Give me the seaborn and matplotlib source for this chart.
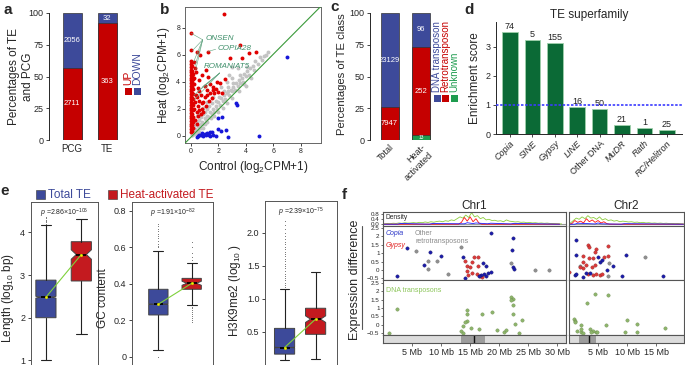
import numpy as np
import pandas as pd
import matplotlib
matplotlib.use("Agg")
import matplotlib.pyplot as plt
import seaborn as sns
from matplotlib.patches import Rectangle
from matplotlib.lines import Line2D

# ---------------- DATA ----------------
# a
a_groups = ["PCG", "TE"]
a_up = [2711, 363]
a_down = [2056, 32]

# b  (control, heat) log2CPM+1
b_gray_x = [0.1,0.2,0.3,0.4,0.5,0.6,0.7,0.8,0.9,1.0,1.1,1.2,1.3,1.4,1.5,1.6,1.7,1.8,1.9,2.0,2.1,2.2,2.3,2.4,2.5,2.6,2.7,2.8,2.9,3.0,3.1,3.2,3.3,3.4,3.5,3.6,3.7,3.8,3.9,4.0,4.1,4.3,4.5,4.6,4.7,4.9,5.0,5.2,5.3,5.5,5.6,4.2,3.0,2.6,2.8,3.4,3.0,
            0.05,0.1,0.15,0.25,0.3,0.35,0.45,0.5,0.55,0.6,0.7,0.75,0.85,0.9,1.0,1.05,1.15,1.2,1.3,1.45,1.55,1.7,1.8,2.0,2.05,2.3,2.4,2.6,2.7,3.0,3.1,3.5,3.6,3.9,4.1,4.4,4.0,2.2,1.6,1.2,0.9,0.6,0.4]
b_gray_y = [0.2,0.3,0.5,0.4,0.7,0.6,0.9,1.0,0.9,1.3,1.2,1.5,1.4,1.8,1.6,2.0,1.8,2.2,2.0,2.5,2.3,2.8,2.6,3.0,2.7,3.2,3.3,3.0,3.4,3.3,3.6,3.4,3.9,3.7,4.1,3.9,4.3,4.0,4.6,4.4,4.8,5.0,5.2,4.9,5.5,5.3,5.8,5.6,5.9,6.0,6.2,4.5,4.3,4.0,4.5,5.0,5.1,
            0.1,0.05,0.35,0.15,0.8,0.25,1.0,0.4,1.2,0.3,1.4,0.6,1.6,0.6,1.8,0.9,2.0,1.0,2.2,1.3,2.4,1.5,2.6,1.8,2.9,2.1,3.3,2.4,3.6,2.8,3.9,3.3,4.5,3.8,5.1,4.3,3.7,3.6,2.9,2.5,2.1,1.7,1.5]
b_red_x = [0,0,0,0,0,0,0,0,0,0,0,0,0,0,0,0,0,0,0,0,0,0,0,0,0,0,0,0,0,
           0.05,0.05,0.05,0.05,0.05,0.05,0.05,0.05,0.05,0.05,0.05,0.05,0.05,
           0.15,0.15,0.15,0.15,0.15,0.15,0.15,0.15,0.15,0.15,
           0.41,0.66,0.24,0.3,0.35,1.22,2.43,3.58,4.23,4.77,2.85,3.7,1.26,2.48,2.12,1.63,1.02,0.54,2.0,2.24,
           0.3,0.4,0.5,0.6,0.7,0.8,0.9,1.0,1.1,1.2,1.3,1.4,1.5,1.6,1.7,1.8,0.4,0.5,0.6,0.7,0.8,0.25,0.3,0.35,0.2,0.45,0.55,0.9,1.15,1.35,1.9,1.1,0.8,0.6,0.2]
b_red_y = [0.3,0.5,0.7,0.9,1.1,1.3,1.5,1.7,1.9,2.1,2.3,2.5,2.7,2.9,3.1,3.3,3.5,3.7,3.9,4.1,4.3,4.5,4.7,4.9,5.1,5.3,5.5,6.36,7.59,
           0.4,0.8,1.2,1.6,2.0,2.4,2.8,3.2,3.6,4.0,4.4,4.8,5.2,
           0.6,1.0,1.4,1.9,2.3,2.7,3.1,3.5,4.2,4.6,
           6.23,5.99,5.49,5.0,4.7,6.23,8.99,6.72,6.16,6.21,5.74,5.79,4.38,4.21,3.89,3.4,3.72,3.57,3.28,3.15,
           1.2,1.8,2.2,2.6,3.0,2.0,2.5,2.9,2.2,3.0,2.6,3.2,2.8,3.6,3.2,3.5,0.9,1.5,1.9,1.6,2.4,2.0,2.5,3.0,3.8,2.9,3.3,1.8,3.4,3.8,4.0,4.9,4.5,4.1,4.3]
b_blue_x = [7.0,4.99,3.28,3.33,2.72,2.53,2.0,2.24,1.39,0.5,0.6,0.7,0.8,0.9,1.0,1.1,1.2,1.3,1.5,1.6,1.8,2.0,2.2,0.4,1.4]
b_blue_y = [5.86,0.0,2.41,2.29,-0.05,0.44,1.3,1.43,0.32,0.0,0.1,0.05,0.2,0.0,0.15,0.05,0.25,0.1,0.3,0.1,-0.02,0.5,0.35,-0.05,0.0]
b_labels = ["ONSEN", "COPIA28", "ROMANIAT5"]
b_label_xy = [(1.05, 7.2), (1.95, 6.45), (0.95, 5.1)]
b_label_anchor = [(0.85, 7.1), (1.8, 6.4), (2.1, 4.65)]
b_label_targets = [[(0.0, 7.59), (0.1, 6.3), (0.2, 5.5), (0.3, 5.2), (0.35, 4.9)],
                   [(1.22, 6.23)],
                   [(0.2, 3.0), (0.25, 2.7), (0.5, 3.3), (0.8, 3.6)]]

# c
c_groups = ["Total", "Heat-\nactivated"]
c_dna = [23129, 96]
c_retro = [7947, 252]
c_unknown = [120, 13]

# d
d_families = ["Copia", "SINE", "Gypsy", "LINE", "Other DNA", "MuDR", "Rath", "RC/Helitron"]
d_scores = [3.52, 3.25, 3.15, 0.93, 0.87, 0.31, 0.21, 0.15]
d_counts = [74, 5, 155, 16, 50, 21, 1, 25]

# e  box statistics: [whislo, q1, med, q3, whishi], notch ci, fliers
e_titles = ["Length (log$_{10}$ bp)", "GC content", "H3K9me2 (log$_{10}$ )"]
e_pvals = ["2.86×10$^{-106}$", "1.91×10$^{-82}$", "2.39×10$^{-75}$"]
e_total_stats = [[1.0, 2.0, 2.48, 2.88, 4.17], [0.037, 0.229, 0.288, 0.37, 0.58], [0.07, 0.16, 0.26, 0.55, 1.14]]
e_heat_stats = [[1.62, 2.86, 3.48, 3.78, 4.31], [0.284, 0.37, 0.403, 0.43, 0.513], [0.09, 0.46, 0.69, 0.855, 1.40]]
e_total_ci = [[2.46, 2.50], [0.286, 0.290], [0.255, 0.265]]
e_heat_ci = [[3.37, 3.59], [0.392, 0.414], [0.64, 0.74]]
e_total_fliers = [[4.2, 4.23, 4.26, 4.3, 4.33, 4.36],
                  [0.0, 0.6, 0.61, 0.62, 0.635, 0.65, 0.66, 0.675, 0.69, 0.7, 0.715, 0.73],
                  [1.17, 1.21, 1.24, 1.28, 1.31, 1.35, 1.38, 1.42, 1.46, 1.49, 1.53, 1.57, 1.6, 1.64, 1.68, 1.71, 1.75, 1.79, 1.83, 1.86, 1.9, 1.95, 2.0, 2.06, 2.12, 2.18]]
e_heat_fliers = [[],
                 [0.19, 0.2, 0.215, 0.225, 0.235, 0.245, 0.255, 0.265, 0.275, 0.53, 0.55, 0.57, 0.6, 0.63],
                 []]

# f
chr_names = ["Chr1", "Chr2"]
chr_xmax = [31.5, 19.8]
chr_ticks = [[5, 10, 15, 20, 25, 30], [5, 10, 15]]
cen_regions = [(13.5, 17.5, 15.6), (1.8, 4.7, 3.4)]
f1_copia_x = [2.46, 4.07, 8.09, 9.93, 7.0, 18.6, 22.4, 22.2, 22.4, 22.5, 13.8, 14.1, 17.2, 17.8, 18.1, 18.6, 17.7, 17.4, 16.8, 16.5]
f1_copia_y = [-0.37, 1.32, 1.05, 0.84, 0.31, 2.2, 1.91, 1.19, 0.15, 0.05, 0.76, -0.51, 0.39, 0.21, -0.18, -0.14, -0.37, -0.27, -0.3, -0.35]
f1_gypsy_x = [14.1, 15.7, 16.3, 14.5, 16.4, 15.0, 14.4, 15.4, 16.1, 16.7, 14.7, 17.0, 15.4]
f1_gypsy_y = [0.54, 0.76, 0.78, 0.26, 0.22, 0.2, -0.07, -0.17, -0.27, -0.37, -0.33, -0.43, 0.5]
f1_other_x = [5.63, 7.8, 7.8, 9.36, 11.25, 13.4, 22.1, 26.2, 28.5]
f1_other_y = [1.13, 0.54, 0.06, 0.54, -0.24, 1.38, 0.41, 0.02, 0.0]
f1_dna_x = [1.03, 2.36, 14.4, 14.4, 17.0, 18.8, 14.4, 14.1, 13.7, 13.4, 13.7, 15.2, 16.6, 19.6, 20.9, 21.1, 22.1, 22.4, 22.1, 22.4, 22.3, 22.7, 23.9, 23.4]
f1_dna_y = [-0.5, 0.94, 0.9, 0.64, 0.64, 0.76, 0.24, 0.18, -0.1, -0.36, -0.5, -0.18, -0.24, -0.3, -0.46, -0.3, 1.66, 1.54, 1.5, 1.2, 0.66, 0.06, 0.26, -0.5]
f2_copia_x = [1.15, 1.15, 5.34, 5.74, 5.0, 7.5, 9.8, 9.07, 16.2, 1.0, 1.2, 2.35, 2.9, 3.6, 6.5]
f2_copia_y = [1.79, 0.88, 0.5, 0.6, 0.8, 0.23, 0.91, -0.37, -0.35, -0.29, -0.25, -0.43, -0.2, -0.2, -0.02]
f2_gypsy_x = [0.0, 3.3, 3.4, 4.6, 4.55, 6.77, 2.35, 3.5, 4.1, 6.77, 6.0, 2.45, 3.0, 3.9, 4.5, 2.45, 1.9, 3.3, 4.1, 4.6, 5.3, 5.6]
f2_gypsy_y = [-0.12, 1.48, 1.34, 1.23, 1.09, 1.42, 0.85, 0.7, 0.7, 0.85, 0.8, 0.46, 0.3, 0.2, 0.3, 0.1, 0.2, -0.22, -0.33, -0.27, -0.33, -0.22]
f2_other_x = [1.9, 6.9, 6.7, 13.1]
f2_other_y = [0.24, 0.4, -0.37, 0.76]
f2_dna_x = [4.47, 6.77, 3.1, 0.86, 1.0, 1.1, 2.1, 1.4, 2.0, 2.1, 2.4, 3.7, 4.1, 4.6, 4.9, 3.8, 6.3, 9.9, 9.6, 11.65, 11.65, 16.5]
f2_dna_y = [1.84, 1.8, 1.3, 0.36, 0.24, 0.18, 0.0, -0.36, -0.46, -0.26, -0.5, -0.24, -0.38, -0.46, -0.42, -0.42, 0.0, 0.28, -0.42, 0.06, -0.44, -0.2]
# density (0.5 Mb bins)
f1_dens_green = [0.03,0.05,0.04,0.08,0.06,0.1,0.07,0.12,0.09,0.1,
                 0.13,0.1,0.15,0.12,0.18,0.14,0.2,0.16,0.22,0.25,
                 0.2,0.28,0.24,0.35,0.3,0.45,0.6,0.5,0.75,0.55,
                 0.95,0.6,0.7,0.45,0.55,0.35,0.4,0.3,0.32,0.25,
                 0.28,0.2,0.35,0.25,0.22,0.18,0.2,0.15,0.17,0.12,
                 0.14,0.1,0.12,0.08,0.1,0.07,0.09,0.06,0.05,0.04,0.03,0.02]
f1_dens_red_pos = [0, 13.0, 13.5, 14.0, 14.5, 15.0, 15.5, 16.0, 16.5, 17.0, 30.4]
f1_dens_red = [0, 0.0, 0.15, 0.55, 0.25, 0.6, 0.2, 0.45, 0.1, 0.0, 0]
f1_dens_blue_pos = [0, 2.5, 3.0, 8.0, 8.5, 14.0, 14.5, 15.5, 16.0, 18.0, 18.5, 22.0, 22.5, 30.4]
f1_dens_blue = [0, 0, 0.06, 0, 0.05, 0.03, 0.12, 0.05, 0.1, 0.03, 0.08, 0.02, 0.06, 0]
f2_dens_green = [0.1,0.3,0.5,0.4,0.6,0.45,0.7,0.5,0.55,0.4,
                 0.6,0.35,0.45,0.3,0.35,0.25,0.3,0.2,0.25,0.22,
                 0.18,0.2,0.15,0.17,0.12,0.15,0.1,0.12,0.08,0.1,
                 0.07,0.09,0.06,0.08,0.05,0.06,0.04,0.05,0.03,0.02]
f2_dens_red_pos = [0, 0.5, 1.0, 1.5, 2.0, 2.5, 3.0, 3.5, 4.0, 4.5, 5.0, 5.5, 6.0, 6.5, 7.0, 19.7]
f2_dens_red = [0, 0.05, 0.3, 0.15, 0.25, 0.1, 0.45, 0.2, 0.35, 0.15, 0.3, 0.1, 0.2, 0.05, 0, 0]
f2_dens_blue_pos = [0, 1.0, 1.5, 4.5, 5.0, 5.5, 9.0, 9.5, 19.7]
f2_dens_blue = [0, 0, 0.08, 0.02, 0.1, 0.03, 0, 0.04, 0]

# ---------------- STYLE ----------------
sns.set_theme(style="ticks")
plt.rcParams['font.family'] = ['Liberation Sans', 'DejaVu Sans']
plt.rcParams['mathtext.fontset'] = 'custom'
plt.rcParams['mathtext.rm'] = 'Liberation Sans'
plt.rcParams['mathtext.it'] = 'Liberation Sans:italic'
plt.rcParams['axes.linewidth'] = 0.7
plt.rcParams['xtick.major.width'] = 0.6
plt.rcParams['ytick.major.width'] = 0.6
plt.rcParams['xtick.major.size'] = 2.5
plt.rcParams['ytick.major.size'] = 2.5

RED = '#c50000'
BLUE = '#3d4a9a'
UGREEN = '#1e9c4f'
W, H = 685, 365
fig = plt.figure(figsize=(W / 100, H / 100), dpi=100)


def box(l, t, r, b):
    return [l / W, 1 - b / H, (r - l) / W, (b - t) / H]


def fpt(x, y):
    return (x / W, 1 - y / H)


def letter(x, y, s):
    fig.text(x / W, 1 - y / H, s, fontsize=11, fontweight='bold', va='center', ha='left')


def vlegend(entries, x0, ybot, dx, fs=7.5):
    # rotated legend: coloured squares with vertical text above
    for i, (lab, col) in enumerate(entries):
        x = x0 + i * dx
        fig.add_artist(Rectangle(fpt(x - 3.5, ybot + 7), 7 / W, 7 / H, transform=fig.transFigure,
                                 facecolor=col, edgecolor='none'))
        fig.text(x / W, 1 - (ybot - 3) / H, lab, rotation=90, color=col, fontsize=fs,
                 ha='center', va='bottom')


# ---------------- a ----------------
ax = fig.add_axes(box(49, 13, 125, 140))
dfa = pd.DataFrame({'group': a_groups, 'up': a_up, 'down': a_down})
dfa['up_pct'] = dfa['up'] / (dfa['up'] + dfa['down']) * 100
dfa['all'] = 100.0
sns.barplot(data=dfa, x='group', y='all', color=BLUE, saturation=1, width=0.54,
            edgecolor='#333333', linewidth=0.5, errorbar=None, ax=ax)
sns.barplot(data=dfa, x='group', y='up_pct', color=RED, saturation=1, width=0.54,
            edgecolor='#333333', linewidth=0.5, errorbar=None, ax=ax)
for i, r in dfa.iterrows():
    ax.text(i, r['up_pct'] / 2, str(r['up']), color='white', fontsize=5.5, ha='center', va='center')
    ax.text(i, r['up_pct'] + (100 - r['up_pct']) / 2, str(r['down']), color='white', fontsize=5.5,
            ha='center', va='center')
ax.set_xlim(-0.657, 1.51)
ax.set_ylim(0, 100)
ax.set_yticks([0, 25, 50, 75, 100])
ax.set_xlabel('')
ax.set_ylabel('Percentages of TE\nand PCG', fontsize=8.5, linespacing=1.15)
ax.yaxis.set_label_coords(-0.2, 0.5)
ax.tick_params(axis='y', labelsize=6.5, length=2.5, pad=1.5)
ax.tick_params(axis='x', labelsize=7, length=0, pad=3)
sns.despine(ax=ax, bottom=True)
vlegend([('UP', RED), ('DOWN', BLUE)], 128, 88, 9)
letter(3, 10, 'a')

# ---------------- b ----------------
ax = fig.add_axes(box(185, 7, 321, 143))
sns.scatterplot(x=b_gray_x, y=b_gray_y, color='#c4c4c4', s=8, linewidth=0, ax=ax, legend=False)
sns.scatterplot(x=b_red_x, y=b_red_y, color='#e00000', s=8, linewidth=0, ax=ax, legend=False)
sns.scatterplot(x=b_blue_x, y=b_blue_y, color='#1616d8', s=8, linewidth=0, ax=ax, legend=False)
ax.plot([-1, 10], [-1.1, 10.1], color='#3a9a3a', lw=0.8, zorder=5)
for lab, xy, anc, tg in zip(b_labels, b_label_xy, b_label_anchor, b_label_targets):
    ax.text(xy[0], xy[1], lab, color='#3f8f6a', fontsize=5.8, style='italic', va='center', ha='left')
    for t in tg:
        ax.plot([anc[0], t[0]], [anc[1], t[1]], color='#5fa37f', lw=0.4)
ax.set_xlim(-0.44, 9.49)
ax.set_ylim(-0.52, 9.52)
ax.set_xticks([0, 2, 4, 6, 8])
ax.set_yticks([0, 2, 4, 6, 8])
ax.tick_params(labelsize=5, length=2, pad=1.5)
for s in ax.spines.values():
    s.set_color('#666666')
ax.set_xlabel('Control (log$_2$CPM+1)', fontsize=8.5, labelpad=3)
ax.set_ylabel('Heat (log$_2$CPM+1)', fontsize=8.5, labelpad=3)
letter(160, 10, 'b')

# ---------------- c ----------------
ax = fig.add_axes(box(370, 13, 433, 140))
dfc = pd.DataFrame({'group': c_groups, 'dna': c_dna, 'retro': c_retro, 'unk': c_unknown})
tot = dfc['dna'] + dfc['retro'] + dfc['unk']
dfc['unk_pct'] = dfc['unk'] / tot * 100
dfc['ru_pct'] = (dfc['unk'] + dfc['retro']) / tot * 100
dfc['all'] = 100.0
for col, colour in [('all', BLUE), ('ru_pct', RED), ('unk_pct', UGREEN)]:
    sns.barplot(data=dfc, x='group', y=col, color=colour, saturation=1, width=0.57,
                edgecolor='#333333', linewidth=0.5, errorbar=None, ax=ax)
for i, r in dfc.iterrows():
    ax.text(i, (r['unk_pct'] + r['ru_pct']) / 2, str(r['retro']), color='white', fontsize=5.5,
            ha='center', va='center')
    ax.text(i, (r['ru_pct'] + 100) / 2, str(r['dna']), color='white', fontsize=5.5, ha='center', va='center')
    if r['unk_pct'] > 2:
        ax.text(i, r['unk_pct'] / 2, str(r['unk']), color='white', fontsize=3.5, ha='center', va='center')
ax.set_xlim(-0.62, 1.38)
ax.set_ylim(0, 100)
ax.set_yticks([0, 25, 50, 75, 100])
ax.set_xlabel('')
ax.set_ylabel('Percentages of TE class', fontsize=8.1)
ax.yaxis.set_label_coords(-0.36, 0.52)
ax.tick_params(axis='y', labelsize=6.5, length=2.5, pad=1.5)
ax.tick_params(axis='x', labelsize=6.5, length=0, pad=2)
for lbl in ax.get_xticklabels():
    lbl.set_rotation(45)
    lbl.set_ha('right')
    lbl.set_rotation_mode('anchor')
sns.despine(ax=ax, bottom=True)
vlegend([('DNA transposon', BLUE), ('Retrotransposon', RED), ('Unknown', UGREEN)], 437, 95, 8.5, fs=7)
letter(330, 7, 'c')

# ---------------- d ----------------
ax = fig.add_axes(box(496, 22, 682, 134))
dfd = pd.DataFrame({'family': d_families, 'score': d_scores, 'n': d_counts})
sns.barplot(data=dfd, x='family', y='score', color='#0b6a36', saturation=1, width=0.7,
            edgecolor='#9fd0ab', linewidth=0.6, errorbar=None, ax=ax)
for i, r in dfd.iterrows():
    ax.text(i, r['score'] + 0.03, str(r['n']), fontsize=6.5, ha='center', va='bottom', color='#222222')
ax.axhline(1.0, color='#3b3bff', ls=(0, (1.5, 1)), lw=1.2, zorder=5)
ax.set_xlim(-0.625, 7.68)
ax.set_ylim(0, 3.86)
ax.set_yticks([0, 1, 2, 3])
ax.set_xlabel('')
ax.set_ylabel('Enrichment score', fontsize=8.5, labelpad=3)
ax.set_title('TE superfamily', fontsize=8.5, pad=3)
ax.tick_params(axis='y', labelsize=6.5, length=2.5, pad=1.5)
ax.tick_params(axis='x', labelsize=6.5, length=2, pad=1.5)
for lbl in ax.get_xticklabels():
    lbl.set_rotation(45)
    lbl.set_ha('right')
    lbl.set_rotation_mode('anchor')
    if lbl.get_text() != 'Other DNA':
        lbl.set_style('italic')
sns.despine(ax=ax)
letter(464, 10, 'd')

# ---------------- e ----------------
letter(0, 191, 'e')
for i, (lab, col) in enumerate([('Total TE', BLUE), ('Heat-activated TE', '#c41a1f')]):
    x0 = [36, 108][i]
    fig.add_artist(Rectangle(fpt(x0, 199), 9 / W, 9 / H, transform=fig.transFigure,
                             facecolor=col, edgecolor='#333333', lw=0.4))
    fig.text((x0 + 12) / W, 1 - 194.5 / H, lab, color=col, fontsize=8.5, va='center', ha='left')

# axes extend below the (cropped) figure edge, as in the reference
e_boxes = [box(30.7, 201.7, 98.3, 394), box(131.7, 201.7, 213, 394), box(265, 201, 336.7, 379)]
e_xlims = [(-0.43, 1.48), (-0.8, 1.64), (-0.63, 1.68)]
e_ylims = [(0.213, 4.717), (-0.205, 0.851), (-0.217, 2.48)]
e_yticks = [([1, 2, 3, 4], ['1', '2', '3', '4']),
            ([0, 0.2, 0.4, 0.6, 0.8], ['0', '0.2', '0.4', '0.6', '0.8']),
            ([0.5, 1.0, 1.5, 2.0], ['0.5', '1.0', '1.5', '2.0'])]
e_widths = [0.57, 0.58, 0.65]
for k in range(3):
    ax = fig.add_axes(e_boxes[k])
    stats = []
    for st, ci, fl, nm in [(e_total_stats[k], e_total_ci[k], e_total_fliers[k], 'Total'),
                           (e_heat_stats[k], e_heat_ci[k], e_heat_fliers[k], 'Heat')]:
        stats.append(dict(whislo=st[0], q1=st[1], med=st[2], q3=st[3], whishi=st[4],
                          cilo=ci[0], cihi=ci[1], fliers=fl, label=nm))
    bp = ax.bxp(stats, positions=[0, 1], widths=e_widths[k], patch_artist=True, shownotches=True,
                capwidths=0.3,
                boxprops=dict(edgecolor='#444444', linewidth=0.7),
                medianprops=dict(color='black', linewidth=1.3),
                whiskerprops=dict(color='#222222', linewidth=0.8),
                capprops=dict(color='#222222', linewidth=0.8),
                flierprops=dict(marker='.', markersize=1.3, markerfacecolor='#333333',
                                markeredgecolor='none'))
    bp['boxes'][0].set_facecolor(BLUE)
    bp['boxes'][1].set_facecolor('#c41a1f')
    meds = [e_total_stats[k][2], e_heat_stats[k][2]]
    sns.lineplot(x=[0, 1], y=meds, color='#7fd13b', lw=0.8, ax=ax, zorder=6)
    ax.scatter([0, 1], meds, s=4, color='#f2f200', edgecolor='#aaaa00', lw=0.2, zorder=7)
    ax.set_xlim(*e_xlims[k])
    ax.set_ylim(*e_ylims[k])
    ax.set_yticks(e_yticks[k][0])
    ax.set_yticklabels(e_yticks[k][1])
    ax.set_xticks([])
    ax.tick_params(axis='y', labelsize=6.5, length=2.5, pad=1.5)
    for s in ax.spines.values():
        s.set_color('#555555')
    ax.set_ylabel(e_titles[k], fontsize=8.5, labelpad=3)
    ax.text(0.5, 1 - 5 / (e_boxes[k][3] * H), '$\\it{p}$ =' + e_pvals[k], transform=ax.transAxes,
            fontsize=5, ha='center', va='top', color='#222222')

# ---------------- f ----------------
letter(342, 195, 'f')
f_x = [(383, 566), (569, 684)]
f_data = [
    (f1_copia_x, f1_copia_y, f1_gypsy_x, f1_gypsy_y, f1_other_x, f1_other_y, f1_dna_x, f1_dna_y,
     f1_dens_green, f1_dens_red_pos, f1_dens_red, f1_dens_blue_pos, f1_dens_blue),
    (f2_copia_x, f2_copia_y, f2_gypsy_x, f2_gypsy_y, f2_other_x, f2_other_y, f2_dna_x, f2_dna_y,
     f2_dens_green, f2_dens_red_pos, f2_dens_red, f2_dens_blue_pos, f2_dens_blue)]
FCOP = '#1c1ca8'
FGYP = '#d93a3a'
FOTH = '#8f8f8f'
FDNA = '#8db46b'
for c in range(2):
    l, r = f_x[c]
    (cx, cy, gx, gy, ox, oy, dx, dy, dg, rp, rv, bpos, bv) = f_data[c]
    axd = fig.add_axes(box(l, 212, r, 226))
    axr = fig.add_axes(box(l, 226, r, 280))
    axn = fig.add_axes(box(l, 280, r, 335))
    axi = fig.add_axes(box(l, 335, r, 343))
    # density
    gpos = [0.25 + 0.5 * i for i in range(len(dg))]
    sns.lineplot(x=gpos, y=dg, color='#8ccc3c', lw=0.6, ax=axd)
    sns.lineplot(x=rp, y=rv, color='#ff1010', lw=0.6, ax=axd)
    sns.lineplot(x=bpos, y=bv, color='#2020ff', lw=0.6, ax=axd)
    axd.plot([0, chr_xmax[c]], [0, 0], color='#9a9a9a', lw=0.8, zorder=1)
    axd.set_ylim(-0.15, 1.0)
    axd.set_yticks([0, 0.4, 0.8])
    # retro
    sns.scatterplot(x=ox, y=oy, color=FOTH, s=6, linewidth=0.2, edgecolor='#555555', ax=axr, legend=False)
    sns.scatterplot(x=gx, y=gy, color=FGYP, s=6, linewidth=0.2, edgecolor='#7a1010', ax=axr, legend=False)
    sns.scatterplot(x=cx, y=cy, color=FCOP, s=6, linewidth=0.2, edgecolor='#0a0a50', ax=axr, legend=False)
    axr.set_ylim(-0.6, 2.62)
    # dna
    sns.scatterplot(x=dx, y=dy, color=FDNA, s=6, linewidth=0.2, edgecolor='#5a7a3a', ax=axn, legend=False)
    axn.set_ylim(-0.62, 2.68)
    for a_ in (axr, axn):
        a_.set_yticks([-0.5, 0, 0.5, 1, 1.5, 2, 2.5])
        a_.set_yticklabels(['\u22120.5', '0', '0.5', '1', '1.5', '2', '2.5'])
    # ideogram
    axi.set_facecolor('#dcdcdc')
    lo, hi, cen = cen_regions[c]
    axi.axvspan(lo, hi, color='#9c9c9c', lw=0)
    axi.axvline(cen, color='#111111', lw=1.0)
    axi.set_yticks([])
    axi.set_xticks(chr_ticks[c])
    axi.set_xticklabels([f'{t} Mb' for t in chr_ticks[c]])
    axi.tick_params(axis='x', labelsize=6.5, length=2, pad=1.5, color='#555555')
    for a_ in (axd, axr, axn, axi):
        a_.set_xlim(0, chr_xmax[c])
        for s in a_.spines.values():
            s.set_color('#555555')
            s.set_linewidth(0.8)
        if a_ is not axi:
            a_.set_xticks([])
        a_.set_xlabel('')
        a_.set_ylabel('')
        if c == 0:
            a_.tick_params(axis='y', labelsize=4.5, length=1.5, pad=1, color='#555555')
        else:
            a_.set_yticks([])
    axd.set_title(chr_names[c], fontsize=8.5, pad=1.5)
    if c == 0:
        axd.text(0.015, 0.85, 'Density', transform=axd.transAxes, fontsize=4.8, va='top', ha='left')
        axr.text(0.015, 0.93, 'Copia', transform=axr.transAxes, fontsize=5, style='italic',
                 color='#2a35c8', va='top')
        axr.text(0.015, 0.7, 'Gypsy', transform=axr.transAxes, fontsize=5, style='italic',
                 color='#e02020', va='top')
        axr.text(0.175, 0.93, 'Other\nretrotransposons', transform=axr.transAxes, fontsize=5,
                 color='#8a8a8a', va='top', linespacing=1.3)
        axn.text(0.015, 0.88, 'DNA transposons', transform=axn.transAxes, fontsize=5,
                 color='#8cc55a', va='top')

fig.text(355 / W, 1 - 280 / H, 'Expression difference', rotation=90, fontsize=9, ha='center', va='center')
fig.add_artist(Line2D([362 / W, 362 / W], [1 - 226 / H, 1 - 329 / H], color='#555555', lw=0.8,
                      transform=fig.transFigure))

fig.savefig('out.png', dpi=100)
